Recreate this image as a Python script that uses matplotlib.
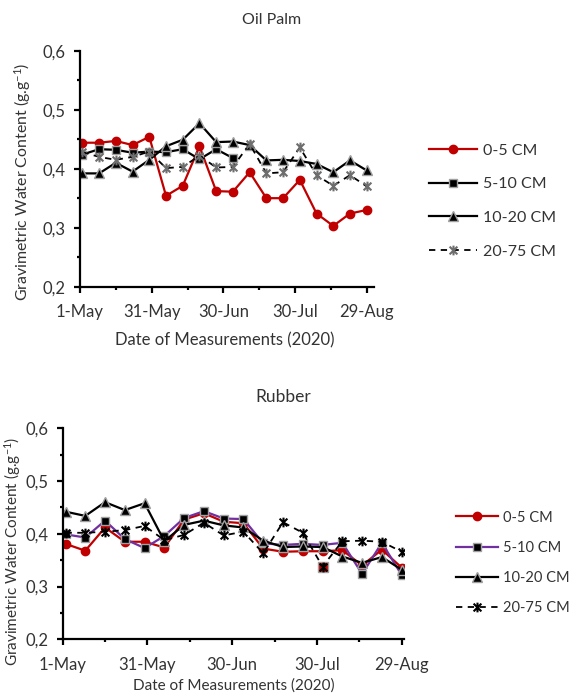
import numpy as np
import matplotlib
matplotlib.use("Agg")
import matplotlib.pyplot as plt
import matplotlib.dates as mdates
from matplotlib.path import Path
from matplotlib.ticker import FixedLocator, FuncFormatter, MultipleLocator

plt.rcParams["font.family"] = ["Lato", "DejaVu Sans"]
plt.rcParams["mathtext.fontset"] = "custom"
plt.rcParams["mathtext.rm"] = "Lato"
plt.rcParams["mathtext.default"] = "regular"

TEXT = "#333333"

# weekly sampling dates (2020)
dates = ["2020-05-02", "2020-05-09", "2020-05-16", "2020-05-23", "2020-05-30",
         "2020-06-06", "2020-06-13", "2020-06-20", "2020-06-27", "2020-07-04",
         "2020-07-11", "2020-07-18", "2020-07-25", "2020-08-01", "2020-08-08",
         "2020-08-15", "2020-08-22", "2020-08-29"]
depths = ["0-5 CM", "5-10 CM", "10-20 CM", "20-75 CM"]

# Oil Palm
op_0_5 = [0.444, 0.444, 0.447, 0.440, 0.454, 0.354, 0.371, 0.438, 0.362, 0.361,
          0.394, 0.350, 0.350, 0.381, 0.324, 0.303, 0.324, 0.330]
op_5_10 = [0.424, 0.433, 0.432, 0.427, 0.429, 0.428, 0.433, 0.416, 0.433, 0.418]
op_10_20 = [0.392, 0.392, 0.410, 0.395, 0.415, 0.438, 0.449, 0.477, 0.445, 0.446,
            0.440, 0.414, 0.415, 0.413, 0.408, 0.394, 0.414, 0.397]
op_20_75 = [0.428, 0.420, 0.415, 0.420, 0.429, 0.401, 0.403, 0.422, 0.402, 0.403,
            0.442, 0.392, 0.394, 0.436, 0.389, 0.371, 0.389, 0.370]

# Rubber
rb_0_5 = [0.381, 0.368, 0.412, 0.385, 0.385, 0.374, 0.427, 0.439, 0.423, 0.420,
          0.372, 0.366, 0.367, 0.367, 0.369, 0.340, 0.370, 0.336]
rb_5_10 = [0.399, 0.393, 0.425, 0.390, 0.373, 0.396, 0.430, 0.443, 0.429, 0.428,
           0.382, 0.379, 0.381, 0.379, 0.383, 0.324, 0.383, 0.322]
rb_10_20 = [0.442, 0.434, 0.460, 0.445, 0.458, 0.386, 0.417, 0.425, 0.416, 0.412,
            0.387, 0.375, 0.376, 0.375, 0.357, 0.345, 0.356, 0.332]
rb_20_75 = [0.402, 0.402, 0.404, 0.407, 0.415, 0.388, 0.398, 0.421, 0.397, 0.404,
            0.363, 0.422, 0.402, 0.338, 0.386, 0.387, 0.385, 0.366]
rb_flag_idx = 13  # point drawn with a red square in the source chart

x = mdates.datestr2num(dates)
x0 = mdates.datestr2num("2020-05-01")

# excel-like "star" marker: an x with a vertical bar through it
STAR = Path([(-1, -1), (1, 1), (-1, 1), (1, -1), (0, -1.25), (0, 1.25)],
            [Path.MOVETO, Path.LINETO] * 3)


def style_axes(ax, xmax_days):
    ax.set_xlim(x0, x0 + xmax_days)
    ax.set_ylim(0.2, 0.6)
    for s in ("top", "right"):
        ax.spines[s].set_visible(False)
    for s in ("left", "bottom"):
        ax.spines[s].set_linewidth(1.6)
        ax.spines[s].set_color("black")
    ax.xaxis.set_major_locator(FixedLocator(x0 + np.arange(0, 121, 30)))
    ax.xaxis.set_minor_locator(FixedLocator(x0 + np.arange(15, 121, 30)))
    ax.xaxis.set_major_formatter(FuncFormatter(
        lambda v, p: f"{mdates.num2date(v).day}-{mdates.num2date(v).strftime('%b')}"))
    ax.yaxis.set_major_locator(MultipleLocator(0.1))
    ax.yaxis.set_minor_locator(MultipleLocator(0.05))
    ax.yaxis.set_major_formatter(FuncFormatter(lambda v, p: f"{v:.1f}".replace(".", ",")))
    ax.tick_params(which="major", direction="out", length=4.5, width=1.6,
                   labelsize=12, labelcolor=TEXT, color="black")
    ax.tick_params(which="minor", direction="out", length=2.5, width=1.6, color="black")
    ax.tick_params(axis="x", which="major", pad=8)
    ax.tick_params(axis="y", which="major", pad=6)


sq = dict(marker="s", ms=6, mfc="black", mec="#a0a0a0", mew=1.0)
tri = dict(marker="^", ms=6.5, mfc="black", mec="#a0a0a0", mew=1.0)
circ = dict(marker="o", ms=6, mfc="#c00000", mec="#c00000")

fig = plt.figure(figsize=(5.73, 6.95), dpi=100)

# ---- Oil Palm ----
ax1 = fig.add_axes([0.1396, 0.5875, 0.5129, 0.3396])
ax1.plot(x, op_0_5, color="#c00000", lw=1.6, label=depths[0], **circ)
ax1.plot(x[:len(op_5_10)], op_5_10, color="black", lw=1.6, label=depths[1], **sq)
ax1.plot(x, op_10_20, color="black", lw=1.6, label=depths[2], **tri)
ax1.plot(x, op_20_75, color="black", lw=1.3, ls=(0, (3.5, 3)), label=depths[3],
         marker=STAR, ms=7, mfc="none", mec="#6e6e6e", mew=1.5)
style_axes(ax1, 123)
fig.text(272 / 573, 1 - 20 / 695, "Oil Palm", ha="center", va="center", fontsize=11.5, color=TEXT)
fig.text(225 / 573, 1 - 340 / 695, "Date of Measurements (2020)", ha="center", va="center",
         fontsize=12, color=TEXT)
fig.text(23 / 573, 1 - 182 / 695, r"Gravimetric Water Content (g.g$^{-1}$)", rotation=90,
         ha="center", va="center", fontsize=11.4, color=TEXT)
ax1.legend(loc="center left", bbox_to_anchor=(429 / 573, 1 - 201 / 695),
           bbox_transform=fig.transFigure, frameon=False, fontsize=11.5, labelcolor=TEXT,
           handlelength=3.0, handletextpad=0.35, labelspacing=1.22, borderpad=0,
           borderaxespad=0)

# ---- Rubber ----
ax2 = fig.add_axes([0.1094, 0.0801, 0.5955, 0.3036])
ax2.plot(x, rb_0_5, color="#c00000", lw=1.6, label=depths[0], **circ)
ax2.plot(x, rb_5_10, color="#7030a0", lw=1.6, label=depths[1], **sq)
ax2.plot(x, rb_10_20, color="black", lw=1.6, label=depths[2], **tri)
ax2.plot(x[rb_flag_idx], rb_20_75[rb_flag_idx], marker="s", ms=6.5, mfc="#c00000",
         mec="#a0a0a0", mew=1.0, ls="none")
ax2.plot(x, rb_20_75, color="black", lw=1.3, ls=(0, (3.5, 3)), label=depths[3],
         marker=STAR, ms=7, mfc="none", mec="black", mew=1.5)
style_axes(ax2, 120.8)
fig.text(283 / 573, 1 - 397 / 695, "Rubber", ha="center", va="center", fontsize=12.5, color=TEXT)
fig.text(234 / 573, 1 - 686 / 695, "Date of Measurements (2020)", ha="center", va="center",
         fontsize=11, color=TEXT)
fig.text(12.7 / 573, 1 - 551 / 695, r"Gravimetric Water Content (g.g$^{-1}$)", rotation=90,
         ha="center", va="center", fontsize=11, color=TEXT)
ax2.legend(loc="center left", bbox_to_anchor=(456 / 573, 1 - 563 / 695),
           bbox_transform=fig.transFigure, frameon=False, fontsize=10.5, labelcolor=TEXT,
           handlelength=2.9, handletextpad=0.3, labelspacing=1.12, borderpad=0,
           borderaxespad=0)

fig.savefig("out.png", dpi=100)
